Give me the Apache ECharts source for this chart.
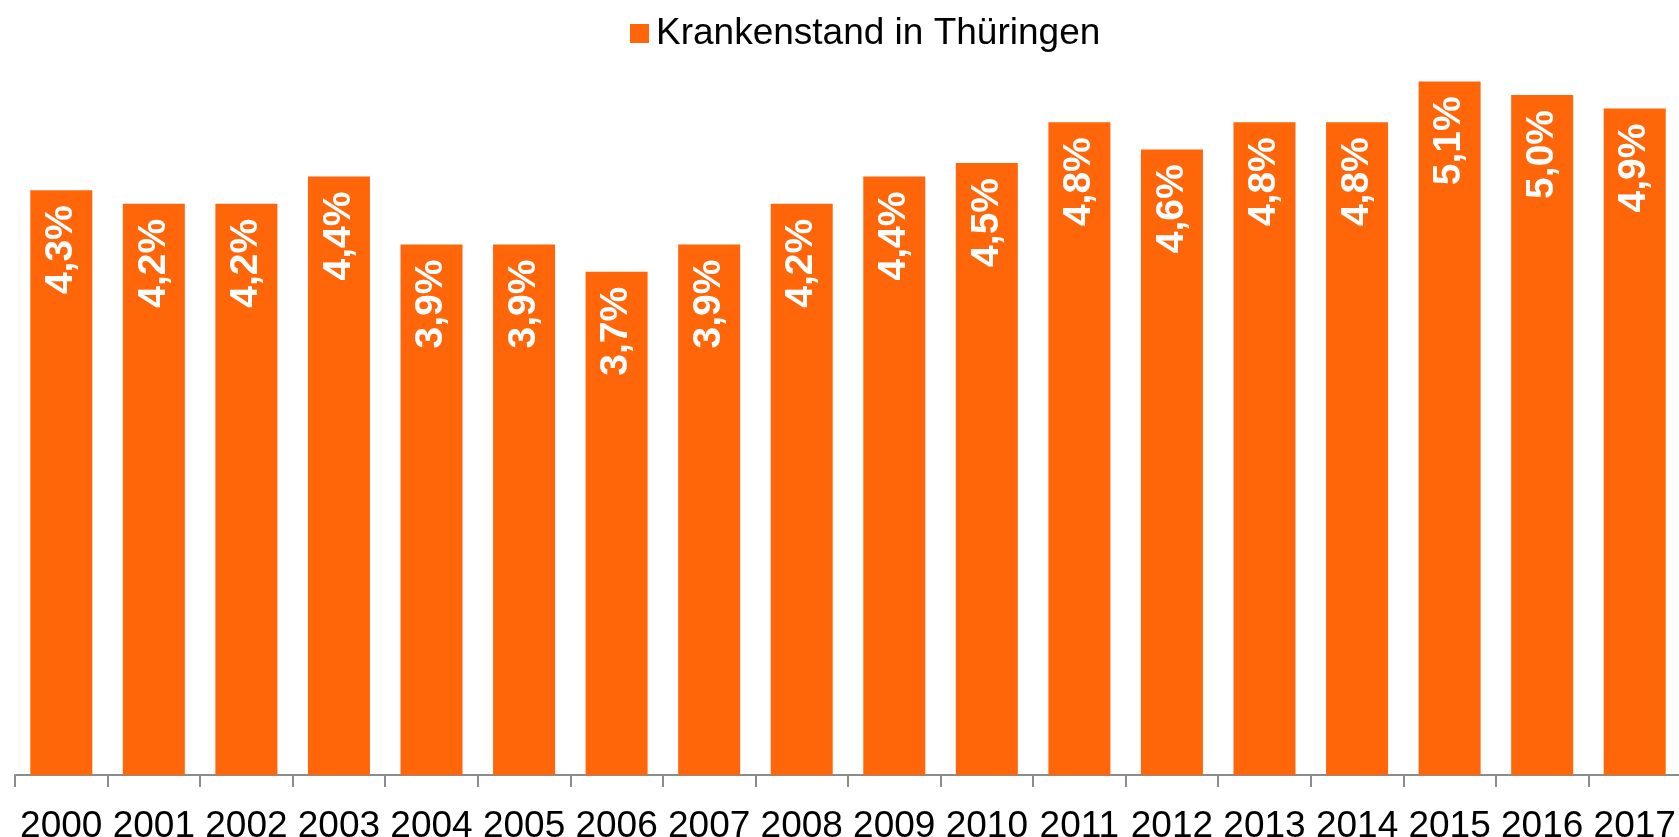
<!DOCTYPE html>
<html>
<head>
<meta charset="utf-8">
<script src="https://cdn.jsdelivr.net/npm/echarts@6/dist/echarts.min.js"></script>
<style>
  html, body { margin: 0; padding: 0; background: #fff; }
  #chart { width: 1679px; height: 837px; }
</style>
</head>
<body>
<div id="chart"></div>
<script>
// years and sick-leave rate (%)
const years = ["2000", "2001", "2002", "2003", "2004", "2005", "2006", "2007", "2008",
  "2009", "2010", "2011", "2012", "2013", "2014", "2015", "2016", "2017"];
const rates = [4.3, 4.2, 4.2, 4.4, 3.9, 3.9, 3.7, 3.9, 4.2, 4.4, 4.5, 4.8, 4.6, 4.8, 4.8, 5.1, 5.0, 4.9];
const seriesName = "Krankenstand in Thüringen";

const chart = echarts.init(document.getElementById("chart"), null, { renderer: "canvas" });

const option = {
  animation: false,
  legend: {
    data: [seriesName],
    left: 625,
    top: 10,
    itemWidth: 19,
    itemHeight: 19,
    itemGap: 0,
    icon: "rect",
    textStyle: {
      fontFamily: "Liberation Sans, Arial, sans-serif",
      fontSize: 37,
      color: "#000",
      padding: [0, 0, 0, 2],
    },
  },
  grid: {
    left: 15,
    top: 27,
    width: 1666,
    bottom: 62,
    containLabel: false,
    outerBoundsMode: "none",
  },
  xAxis: {
    type: "category",
    data: years,
    axisLine: { lineStyle: { color: "#8c8c8c", width: 2 } },
    axisTick: { show: true, length: 12, lineStyle: { color: "#8c8c8c", width: 2 } },
    axisLabel: {
      interval: 0,
      margin: 33,
      fontFamily: "Liberation Sans, Arial, sans-serif",
      fontSize: 37,
      color: "#000",
    },
  },
  yAxis: {
    type: "value",
    min: 0,
    max: 5.5,
    show: false,
    splitLine: { show: false },
  },
  series: [
    {
      name: seriesName,
      type: "bar",
      data: rates,
      barWidth: 62,
      itemStyle: { color: "#ff660a" },
      label: {
        show: true,
        position: "insideTop",
        rotate: 90,
        align: "right",
        verticalAlign: "middle",
        distance: 15,
        color: "#fff",
        fontWeight: "bold",
        fontFamily: "Liberation Sans, Arial, sans-serif",
        fontSize: 39,
        formatter: (p) => p.value.toFixed(1).replace(".", ",") + "%",
      },
    },
  ],
};

chart.setOption(option);
</script>
</body>
</html>
